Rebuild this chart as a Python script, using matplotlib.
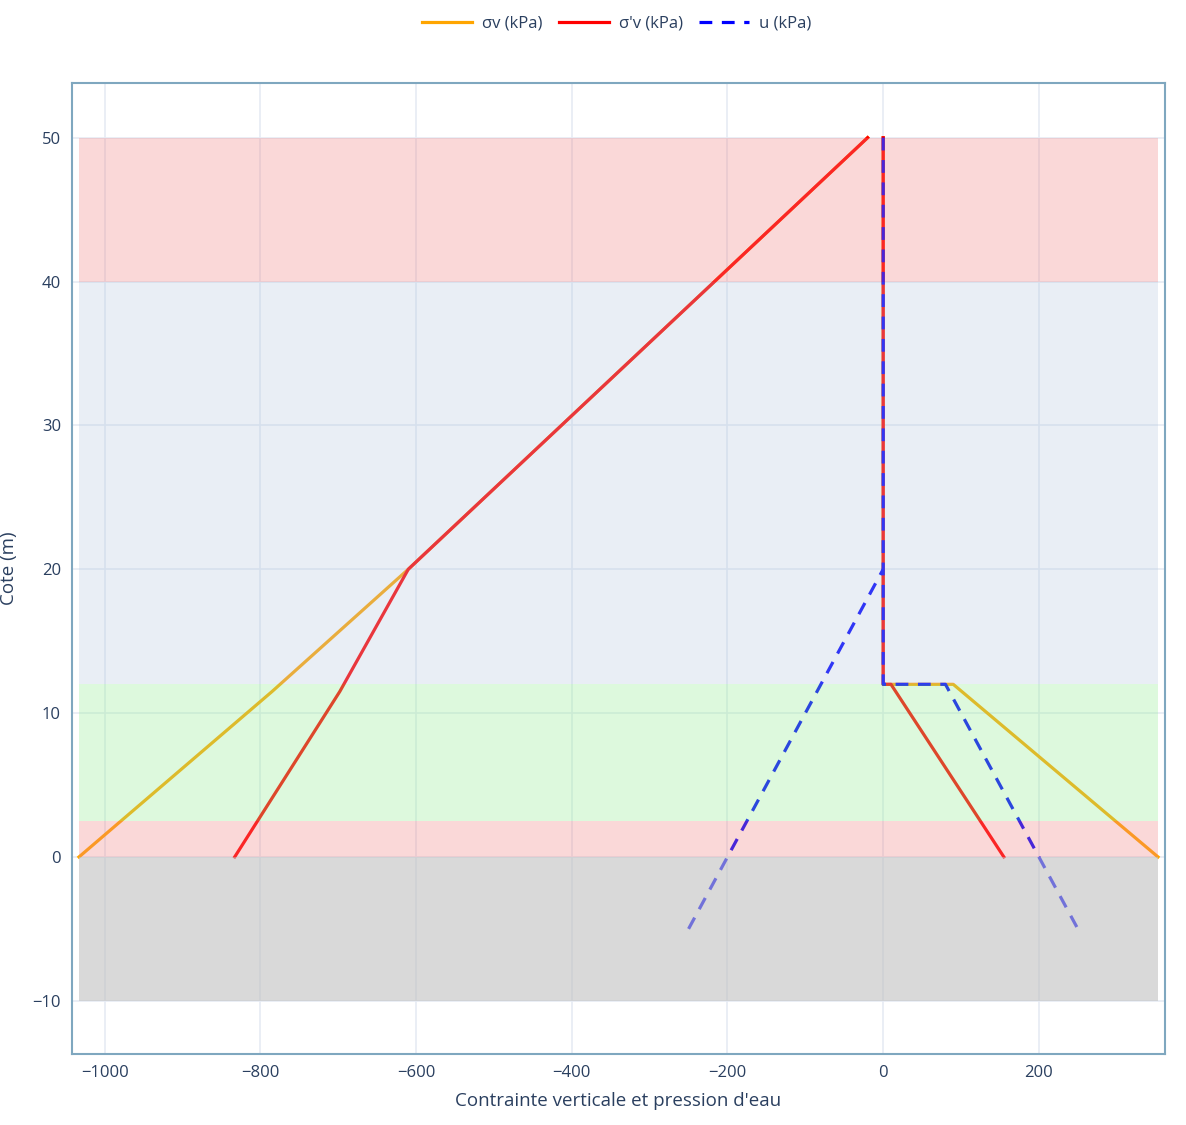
import matplotlib
matplotlib.use("Agg")
import matplotlib.pyplot as plt
from matplotlib.lines import Line2D
import numpy as np

plt.rcParams['font.family'] = ['Open Sans', 'DejaVu Sans']

TEXT = "#2a3f5f"

# soil layers (bottom, top, colour, opacity)
layer_bottom = [-10, 0, 2.5, 12, 40]
layer_top = [0, 2.5, 12, 40, 50]
layer_color = ["silver", "lightcoral", "lightgreen", "lightsteelblue", "lightcoral"]
layer_alpha = [0.6, 0.3, 0.3, 0.28, 0.3]

# sigma_v (total stress) - two branches
sv_left_x = [-1033, -785, -610, -20]
sv_left_z = [0, 11.5, 20, 50]
sv_right_x = [0, 0, 90, 353]
sv_right_z = [50, 12, 12, 0]

# sigma'v (effective stress)
sev_left_x = [-833, -698, -610, -20]
sev_left_z = [0, 11.5, 20, 50]
sev_right_x = [0, 0, 10, 155]
sev_right_z = [50, 12, 12, 0]

# u (pore pressure)
u_left_x = [-250, -200, 0]
u_left_z = [-5, 0, 20]
u_right_x = [0, 0, 80, 200, 250]
u_right_z = [50, 12, 12, 0, -5]

x_ticks = [-1000, -800, -600, -400, -200, 0, 200]
y_ticks = [-10, 0, 10, 20, 30, 40, 50]

fig = plt.figure(figsize=(11.86, 11.25), dpi=100)
ax = fig.add_axes([0.0607, 0.0631, 0.9216, 0.8631])

x_min = min(sv_left_x)
x_max = max(sv_right_x)

lw = 2.3
dash = (0, (4, 3))
ax.plot(sv_left_x, sv_left_z, color="orange", lw=lw, zorder=2)
ax.plot(sv_right_x, sv_right_z, color="orange", lw=lw, zorder=2)
ax.plot(sev_left_x, sev_left_z, color="red", lw=lw, zorder=3)
ax.plot(sev_right_x, sev_right_z, color="red", lw=lw, zorder=3)
ax.plot(u_left_x, u_left_z, color="blue", lw=lw, ls=dash, zorder=4)
ax.plot(u_right_x, u_right_z, color="blue", lw=lw, ls=dash, zorder=4)

# layers drawn above the traces, like plotly shapes
for b, t, c, a in zip(layer_bottom, layer_top, layer_color, layer_alpha):
    ax.fill_between([x_min, x_max], b, t, color=c, alpha=a, lw=0, zorder=5)

ax.set_xlim(-1042, 362)
ax.set_ylim(-13.7, 53.8)
ax.set_xticks(x_ticks)
ax.set_yticks(y_ticks)
ax.set_xticklabels([str(v).replace("-", "\u2212") for v in x_ticks])
ax.set_yticklabels([str(v).replace("-", "\u2212") for v in y_ticks])
ax.grid(True, color="#e6ebf4", lw=1.2, zorder=0)
ax.set_axisbelow(True)
ax.tick_params(length=0, labelsize=12, labelcolor=TEXT, pad=8)
for s in ax.spines.values():
    s.set_color("#7fa7bf")
    s.set_linewidth(1.5)

ax.set_xlabel("Contrainte verticale et pression d'eau", fontsize=13.5, color=TEXT, labelpad=8)
ax.set_ylabel("Cote (m)", fontsize=13.5, color=TEXT, labelpad=10)

handles = [
    Line2D([], [], color="orange", lw=lw),
    Line2D([], [], color="red", lw=lw),
    Line2D([], [], color="blue", lw=lw, ls=dash),
]
labels = ["σv (kPa)", "σ'v (kPa)", "u (kPa)"]
fig.legend(handles, labels, loc="center", bbox_to_anchor=(0.52, 0.979), ncol=3,
           frameon=False, fontsize=12, labelcolor=TEXT, handlelength=3,
           columnspacing=1.0, handletextpad=0.6)

fig.savefig("out.png", dpi=100)
